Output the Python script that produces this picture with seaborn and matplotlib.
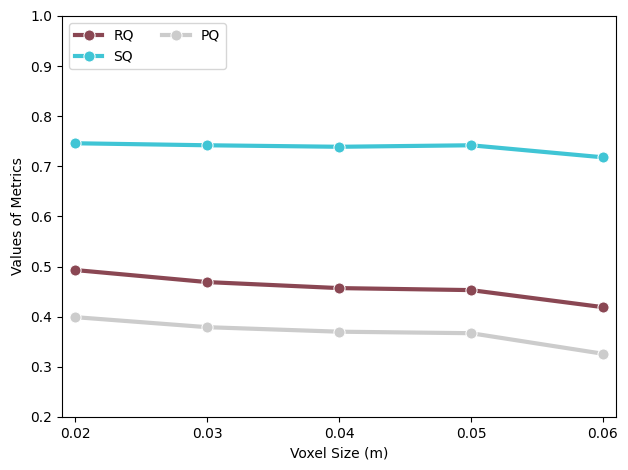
import pandas as pd
import matplotlib.pyplot as plt
import seaborn as sns

# values
voxel_size = [0.02, 0.03, 0.04, 0.05, 0.06]
rq = [0.493, 0.469, 0.457, 0.453, 0.419]
sq = [0.746, 0.742, 0.739, 0.742, 0.718]
pq = [0.399, 0.379, 0.370, 0.367, 0.326]

df = pd.DataFrame({"Voxel Size (m)": voxel_size * 3,
                   "value": rq + sq + pq,
                   "metric": ["RQ"] * 5 + ["SQ"] * 5 + ["PQ"] * 5})

palette = {"RQ": "#8a4753", "SQ": "#40c5d5", "PQ": "#cccccc"}

fig, ax = plt.subplots(figsize=(6.28, 4.70), dpi=100)
sns.lineplot(data=df, x="Voxel Size (m)", y="value", hue="metric",
             palette=palette, marker="o", markersize=8, linewidth=3,
             markeredgecolor="white", ax=ax)

ax.set_xlim(0.019, 0.061)
ax.set_ylim(0.2, 1.0)
ax.set_xticks(voxel_size)
ax.set_ylabel("Values of Metrics")
ax.legend(loc="upper left", ncol=2, title=None)

fig.subplots_adjust(left=0.099, right=0.981, top=0.966, bottom=0.113)
plt.savefig("out.png")
